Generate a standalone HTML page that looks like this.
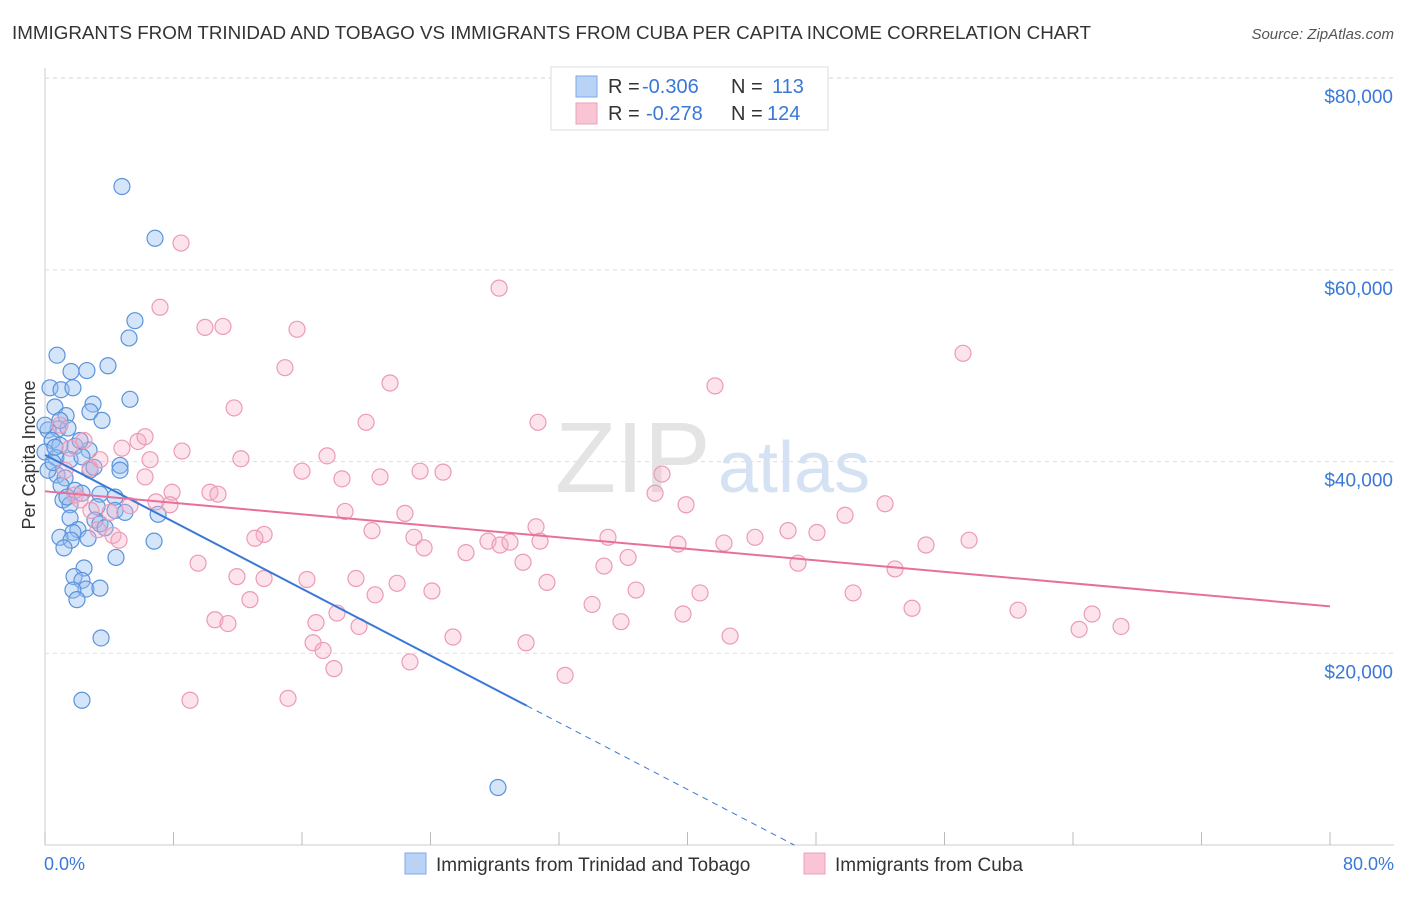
<!DOCTYPE html>
<html><head><meta charset="utf-8"><style>
body{margin:0;background:#fff;font-family:"Liberation Sans",sans-serif}
svg text{font-family:"Liberation Sans",sans-serif}
</style></head><body>
<svg id="chart" width="1406" height="892">
<text x="12" y="39" font-size="18.8" fill="#333">IMMIGRANTS FROM TRINIDAD AND TOBAGO VS IMMIGRANTS FROM CUBA PER CAPITA INCOME CORRELATION CHART</text>
<text x="1394" y="39" font-size="15" fill="#555" font-style="italic" text-anchor="end">Source: ZipAtlas.com</text>
<g id="grid"></g>
<text x="555" y="492" font-size="100" fill="#e4e4e4" font-family="Liberation Serif">ZIP</text>
<text x="718" y="492" font-size="72" fill="#d4e2f3">atlas</text>
<g id="marks"></g>
<text x="35" y="455" font-size="18" fill="#333" text-anchor="middle" transform="rotate(-90 35 455)">Per Capita Income</text>
<g>
<rect x="551" y="67" width="277" height="63" fill="#fff" stroke="#ddd"/>
<rect x="576" y="76" width="21" height="21" fill="#b8d3f5" stroke="#7fa9e3"/>
<text x="608" y="93" font-size="20" fill="#333">R = </text><text x="642" y="93" font-size="20" fill="#3a78d8">-0.306</text>
<text x="731" y="93" font-size="20" fill="#333">N = </text><text x="772" y="93" font-size="20" fill="#3a78d8">113</text>
<rect x="576" y="103" width="21" height="21" fill="#f9c5d5" stroke="#eca0b9"/>
<text x="608" y="120" font-size="20" fill="#333">R = </text><text x="646" y="120" font-size="20" fill="#3a78d8">-0.278</text>
<text x="731" y="120" font-size="20" fill="#333">N = </text><text x="767" y="120" font-size="20" fill="#3a78d8">124</text>
</g>
<g>
<rect x="405" y="853" width="21" height="21" fill="#b8d3f5" stroke="#7fa9e3"/>
<text x="436" y="871" font-size="19" fill="#333">Immigrants from Trinidad and Tobago</text>
<rect x="804" y="853" width="21" height="21" fill="#f9c5d5" stroke="#eca0b9"/>
<text x="835" y="871" font-size="19" fill="#333">Immigrants from Cuba</text>
</g>
<text x="44" y="870" font-size="18" fill="#3a78d8">0.0%</text>
<text x="1394" y="870" font-size="18" fill="#3a78d8" text-anchor="end">80.0%</text>
</svg>
<script>
const yTicks=[20000,40000,60000,80000];
const yTickLabels=["$20,000","$40,000","$60,000","$80,000"];
const blueX=[4.79,6.85,5.60,5.23,0.75,3.92,1.62,2.61,0.31,1.00,1.74,5.29,2.99,0.62,1.31,2.80,3.55,0.81,1.43,0.19,0.44,0.93,1.87,2.74,0,0.68,1.56,2.30,4.67,4.67,0.75,1.25,0.19,2.80,1.00,1.87,2.30,3.42,4.36,1.12,1.56,3.24,4.36,4.98,7.04,1.56,3.11,3.42,3.74,2.05,1.74,2.68,0.93,1.62,1.18,6.79,4.42,2.43,1.81,2.30,2.55,3.42,1.74,1.99,3.49,2.30,28.20,1.37,0.50,0.93,0,2.18,3.05,0.62];
const blueY=[68.7,63.3,54.7,52.9,51.1,50.0,49.4,49.5,47.7,47.5,47.7,46.5,46.0,45.7,44.8,45.2,44.3,43.4,43.5,43.3,42.2,41.7,41.6,41.2,41.0,40.4,40.2,40.5,39.6,39.1,38.6,38.3,39.1,39.1,37.5,37.0,36.7,36.6,36.3,36.0,35.5,35.3,34.9,34.7,34.5,34.1,33.9,33.5,33.1,32.9,32.6,32.0,32.1,31.8,31.0,31.7,30.0,28.9,28.0,27.6,26.7,26.8,26.6,25.6,21.6,15.1,6.0,36.3,39.9,44.3,43.8,42.2,39.4,41.5];
const pinkX=[8.47,7.16,9.96,11.08,15.69,28.27,57.15,14.94,21.48,41.71,11.77,19.99,30.69,5.79,8.53,4.79,12.20,17.56,16.00,20.86,23.35,24.78,18.49,38.41,6.23,7.91,10.27,10.77,6.91,5.29,18.68,22.41,30.57,37.98,39.91,52.30,49.81,48.06,46.26,13.64,13.07,20.36,22.97,23.60,26.21,27.58,28.33,28.95,30.82,35.05,42.27,44.20,54.85,57.53,39.41,36.30,29.76,46.88,52.92,34.80,9.53,11.95,13.64,16.31,19.36,21.92,24.09,20.55,31.25,36.80,40.78,50.31,12.76,34.06,53.98,60.58,10.58,11.39,35.86,39.72,65.19,66.99,64.38,16.87,19.55,18.18,25.40,42.65,16.69,17.31,29.95,22.72,17.99,32.38,9.03,15.13,2.86,3.30,4.05,2.80,1.56,2.43,3.42,0.93,1.87,4.23,4.61,2.18,1.25,6.23,6.54,7.78];
const pinkY=[62.8,56.1,54.0,54.1,53.8,58.1,51.3,49.8,48.2,47.9,45.6,44.1,44.1,42.1,41.1,41.4,40.3,40.6,39.0,38.4,39.0,38.9,38.2,38.7,38.4,36.8,36.8,36.6,35.8,35.4,34.8,34.6,33.2,36.7,35.5,35.6,34.4,32.6,32.8,32.4,32.0,32.8,32.1,31.0,30.5,31.7,31.3,31.6,31.7,32.1,31.5,32.1,31.3,31.8,31.4,30.0,29.5,29.4,28.8,29.1,29.4,28.0,27.8,27.7,27.8,27.3,26.5,26.1,27.4,26.6,26.3,26.3,25.6,25.1,24.7,24.5,23.5,23.1,23.3,24.1,24.1,22.8,22.5,23.2,22.8,24.2,21.7,21.8,21.1,20.3,21.1,19.1,18.4,17.7,15.1,15.3,34.9,32.9,34.7,39.3,41.4,42.2,40.2,43.8,36.5,32.3,31.8,36.0,39.1,42.6,40.2,35.5];
const blueTrend=[40.7,-29.1];
const blueSolidEnd=30.0;
const pinkTrend=[36.9,24.9];

const NS="http://www.w3.org/2000/svg";
const xs=v=>45+v/80*1285;
const ys=v=>845-v*9.585; // thousands
const yd=v=>845-v*0.009585;
function mk(tag,attrs,parent){const e=document.createElementNS(NS,tag);for(const k in attrs)e.setAttribute(k,attrs[k]);parent.appendChild(e);return e;}
const grid=document.getElementById('grid');
const marks=document.getElementById('marks');
let ax=mk('line',{x1:45,x2:45,y1:68,y2:845,stroke:'#ccc'},grid);


let bx=mk('line',{x1:45,x2:1394,y1:845,y2:845,stroke:'#ccc'},grid);


let tg=mk('line',{x1:45,x2:1394,y1:78,y2:78,stroke:'#ddd','stroke-dasharray':'4,4'},grid);


yTicks.forEach((t,i)=>{
 const g=mk('line',{x1:45,x2:1394,y1:yd(t),y2:yd(t),stroke:'#ddd','stroke-dasharray':'4,4'},grid);
 
 
 const l=mk('text',{x:1393,y:yd(t)+25,'font-size':19,fill:'#3a78d8','text-anchor':'end'},grid);
 l.textContent=yTickLabels[i];
 
 
});
for(let i=0;i<=10;i++){
 const t=mk('line',{x1:xs(i*8),x2:xs(i*8),y1:832,y2:845,stroke:'#bbb'},grid);
 
 
}
blueX.forEach((x,i)=>{
 const c=mk('circle',{cx:xs(x),cy:ys(blueY[i]),r:8,fill:'rgba(150,190,240,0.4)',stroke:'#5b93dd','stroke-width':1.2},marks);
 
 
});
pinkX.forEach((x,i)=>{
 const c=mk('circle',{cx:xs(x),cy:ys(pinkY[i]),r:8,fill:'rgba(245,175,200,0.35)',stroke:'#eb9bb6','stroke-width':1.2},marks);
 
 
});
const bAt=x=>blueTrend[0]+(blueTrend[1]-blueTrend[0])*x/80;
let bl=mk('line',{x1:xs(0),y1:ys(bAt(0)),x2:xs(blueSolidEnd),y2:ys(bAt(blueSolidEnd)),stroke:'#3a78d8','stroke-width':2},marks);


const xEnd=80*(blueTrend[0]-0)/(blueTrend[0]-blueTrend[1]);
let bd=mk('line',{x1:xs(blueSolidEnd),y1:ys(bAt(blueSolidEnd)),x2:xs(xEnd),y2:ys(0),stroke:'#3a78d8','stroke-width':1,'stroke-dasharray':'6,5'},marks);


let pl=mk('line',{x1:xs(0),y1:ys(pinkTrend[0]),x2:xs(80),y2:ys(pinkTrend[1]),stroke:'#e7709a','stroke-width':2},marks);


</script>
</body></html>
